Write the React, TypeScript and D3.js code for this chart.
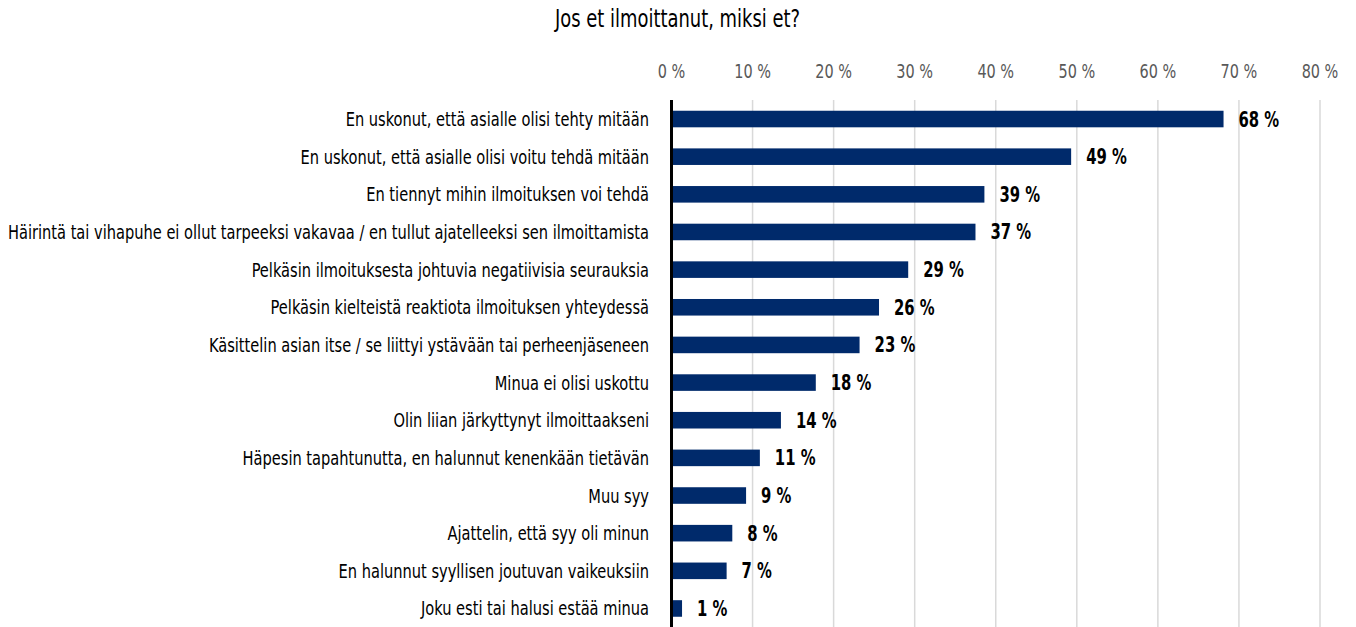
import React, { useLayoutEffect, useRef } from "react";
import * as d3 from "d3";

const title = "Jos et ilmoittanut, miksi et?";
const categories = [
  "En uskonut, että asialle olisi tehty mitään",
  "En uskonut, että asialle olisi voitu tehdä mitään",
  "En tiennyt mihin ilmoituksen voi tehdä",
  "Häirintä tai vihapuhe ei ollut tarpeeksi vakavaa / en tullut ajatelleeksi sen ilmoittamista",
  "Pelkäsin ilmoituksesta johtuvia negatiivisia seurauksia",
  "Pelkäsin kielteistä reaktiota ilmoituksen yhteydessä",
  "Käsittelin asian itse / se liittyi ystävään tai perheenjäseneen",
  "Minua ei olisi uskottu",
  "Olin liian järkyttynyt ilmoittaakseni",
  "Häpesin tapahtunutta, en halunnut kenenkään tietävän",
  "Muu syy",
  "Ajattelin, että syy oli minun",
  "En halunnut syyllisen joutuvan vaikeuksiin",
  "Joku esti tai halusi estää minua",
];
const values = [68.1, 49.3, 38.6, 37.5, 29.2, 25.6, 23.2, 17.8, 13.5, 10.9, 9.2, 7.5, 6.8, 1.3];
const valueLabels = ["68 %", "49 %", "39 %", "37 %", "29 %", "26 %", "23 %", "18 %", "14 %", "11 %", "9 %", "8 %", "7 %", "1 %"];
const ticks = [0, 10, 20, 30, 40, 50, 60, 70, 80];
const tickLabels = ["0 %", "10 %", "20 %", "30 %", "40 %", "50 %", "60 %", "70 %", "80 %"];

const W = 1356;
const H = 627;
const FONT = "'DejaVu Sans Condensed', 'DejaVu Sans', sans-serif";

// text group -> [reference string, width it has in the reference]
const fitRefs: Record<string, [string, number]> = {
  title: [title, 245],
  tick: ["80 %", 36.7],
  cat: [categories[3], 641],
  val: ["68 %", 40.7],
};

export default function App() {
  const svgRef = useRef<SVGSVGElement>(null);
  const x = d3.scaleLinear().domain([0, 80]).range([671.5, 1320]);
  const y = d3
    .scaleBand<string>()
    .domain(categories)
    .range([100.2, 627.3])
    .paddingInner(0.56)
    .paddingOuter(0.28);
  const bw = y.bandwidth();

  useLayoutEffect(() => {
    const svg = d3.select(svgRef.current);
    Object.keys(fitRefs).forEach((cls) => {
      const [refStr, refW] = fitRefs[cls];
      const nodes = svg.selectAll<SVGTextElement, unknown>("text." + cls).nodes();
      const refNode = nodes.find((n) => n.textContent === refStr);
      if (!refNode) return;
      const k = refW / refNode.getComputedTextLength();
      nodes.forEach((n) => {
        const l = n.getComputedTextLength();
        n.setAttribute("textLength", String(l * k));
        n.setAttribute("lengthAdjust", "spacingAndGlyphs");
      });
    });
  }, []);

  return (
    <svg
      ref={svgRef}
      width={W}
      height={H}
      style={{ position: "absolute", left: 0, top: 0, background: "#fff" }}
      fontFamily={FONT}
    >
      <text className="title" x={677.5} y={27} textAnchor="middle" fontSize={24} fill="#000">
        {title}
      </text>
      {ticks.map((t, i) => (
        <g key={t}>
          <line x1={x(t)} x2={x(t)} y1={100} y2={H} stroke="#d9d9d9" strokeWidth={1.5} />
          <text className="tick" x={x(t)} y={78} textAnchor="middle" fontSize={20} fill="#595959">
            {tickLabels[i]}
          </text>
        </g>
      ))}
      {categories.map((c, i) => {
        const yc = (y(c) as number) + bw / 2;
        return (
          <g key={c}>
            <rect
              x={x(0)}
              y={y(c) as number}
              width={x(values[i]) - x(0)}
              height={bw}
              fill="#002a6b"
            />
            <text className="cat" x={649} y={yc + 7} textAnchor="end" fontSize={20} fill="#000">
              {c}
            </text>
            <text
              className="val"
              x={x(values[i]) + 15}
              y={yc + 7.5}
              fontSize={20.5}
              fontWeight="bold"
              fill="#000"
            >
              {valueLabels[i]}
            </text>
          </g>
        );
      })}
      <line x1={x(0)} x2={x(0)} y1={100} y2={H} stroke="#000" strokeWidth={3} />
    </svg>
  );
}
